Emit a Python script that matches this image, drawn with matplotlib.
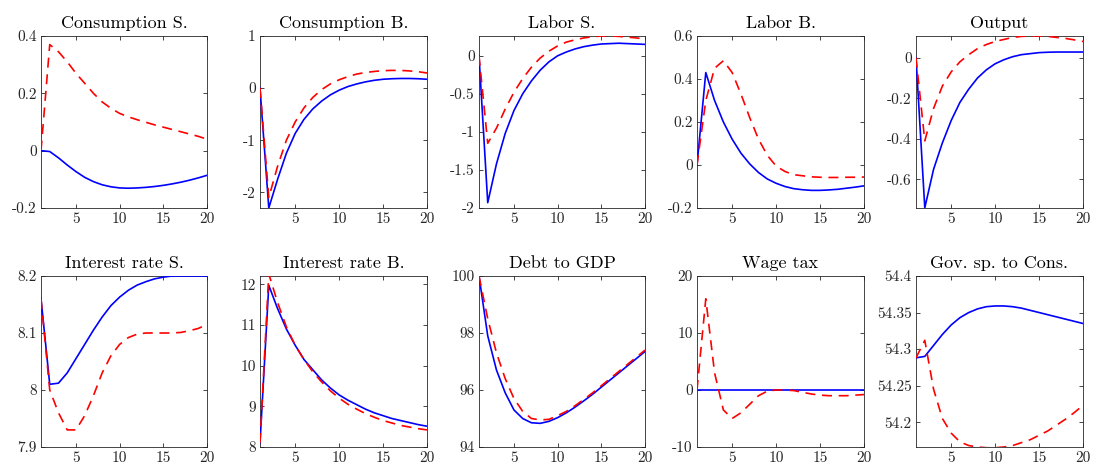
import matplotlib
matplotlib.use("Agg")
import matplotlib.pyplot as plt
import numpy as np

plt.rcParams['font.family'] = 'serif'
plt.rcParams['font.serif'] = ['cmr10']
plt.rcParams['mathtext.fontset'] = 'cm'
plt.rcParams['axes.unicode_minus'] = False
plt.rcParams['axes.formatter.use_mathtext'] = False

periods = list(range(1, 21))

titles = ["Consumption S.", "Consumption B.", "Labor S.", "Labor B.", "Output",
          "Interest rate S.", "Interest rate B.", "Debt to GDP", "Wage tax", "Gov. sp. to Cons."]

cons_s_blue = [0, -0.003, -0.025, -0.05, -0.073, -0.093, -0.108, -0.119, -0.126, -0.130,
               -0.131, -0.130, -0.128, -0.125, -0.121, -0.116, -0.110, -0.103, -0.095, -0.086]
cons_s_red = [0, 0.37, 0.345, 0.31, 0.27, 0.235, 0.2, 0.17, 0.148, 0.13,
              0.118, 0.108, 0.099, 0.09, 0.082, 0.074, 0.066, 0.058, 0.05, 0.04]

cons_b_blue = [0, -2.3, -1.75, -1.25, -0.87, -0.6, -0.4, -0.25, -0.13, -0.04,
               0.03, 0.08, 0.12, 0.15, 0.17, 0.18, 0.185, 0.185, 0.18, 0.17]
cons_b_red = [0, -2.1, -1.5, -1.0, -0.65, -0.38, -0.18, -0.03, 0.08, 0.16,
              0.22, 0.27, 0.3, 0.32, 0.335, 0.34, 0.34, 0.33, 0.315, 0.29]

lab_s_blue = [0, -1.93, -1.42, -1.02, -0.72, -0.5, -0.33, -0.19, -0.08, 0.0,
              0.05, 0.09, 0.12, 0.14, 0.155, 0.16, 0.165, 0.16, 0.155, 0.15]
lab_s_red = [0, -1.15, -0.95, -0.7, -0.48, -0.3, -0.15, -0.03, 0.06, 0.13,
             0.18, 0.21, 0.235, 0.25, 0.26, 0.26, 0.255, 0.245, 0.235, 0.22]

lab_b_blue = [0, 0.43, 0.3, 0.2, 0.12, 0.055, 0.005, -0.035, -0.065, -0.085,
              -0.1, -0.11, -0.115, -0.118, -0.118, -0.116, -0.113, -0.108, -0.103, -0.097]
lab_b_red = [0, 0.3, 0.45, 0.485, 0.43, 0.33, 0.22, 0.12, 0.045, -0.005,
             -0.03, -0.045, -0.05, -0.055, -0.057, -0.058, -0.058, -0.057, -0.057, -0.056]

out_blue = [0, -0.74, -0.55, -0.42, -0.31, -0.22, -0.155, -0.1, -0.06, -0.03,
            -0.01, 0.005, 0.015, 0.02, 0.025, 0.027, 0.028, 0.028, 0.028, 0.028]
out_red = [0, -0.41, -0.25, -0.14, -0.07, -0.02, 0.015, 0.045, 0.065, 0.08,
           0.09, 0.1, 0.105, 0.107, 0.107, 0.105, 0.1, 0.095, 0.088, 0.08]

rs_blue = [8.16, 8.01, 8.012, 8.03, 8.055, 8.08, 8.105, 8.128, 8.148, 8.163,
           8.175, 8.184, 8.19, 8.195, 8.198, 8.2, 8.2, 8.2, 8.2, 8.2]
rs_red = [8.16, 8.0, 7.96, 7.93, 7.93, 7.955, 7.99, 8.03, 8.06, 8.08,
          8.092, 8.098, 8.1, 8.1, 8.1, 8.1, 8.101, 8.104, 8.108, 8.115]

rb_blue = [8.1, 11.97, 11.4, 10.9, 10.5, 10.15, 9.9, 9.65, 9.45, 9.28,
           9.15, 9.04, 8.93, 8.84, 8.77, 8.7, 8.65, 8.6, 8.55, 8.51]
rb_red = [8.1, 12.25, 11.55, 10.95, 10.5, 10.15, 9.85, 9.6, 9.38, 9.2,
          9.05, 8.93, 8.82, 8.73, 8.65, 8.59, 8.53, 8.49, 8.45, 8.42]

debt_blue = [100, 97.9, 96.7, 95.9, 95.3, 95.0, 94.85, 94.83, 94.9, 95.03,
             95.2, 95.4, 95.62, 95.85, 96.1, 96.35, 96.6, 96.85, 97.1, 97.35]
debt_red = [100, 98.5, 97.3, 96.4, 95.7, 95.25, 95.0, 94.95, 94.97, 95.1,
            95.25, 95.45, 95.67, 95.9, 96.15, 96.4, 96.65, 96.9, 97.15, 97.4]

wage_blue = [0] * 20
wage_red = [0, 16, 3, -3.5, -5, -4, -2.5, -1, -0.2, 0,
            0, -0.1, -0.4, -0.7, -0.9, -1.0, -1.0, -1.0, -0.9, -0.8]

gov_blue = [54.288, 54.29, 54.305, 54.32, 54.333, 54.343, 54.35, 54.355, 54.358, 54.359,
            54.359, 54.358, 54.356, 54.353, 54.35, 54.347, 54.344, 54.341, 54.338, 54.335]
gov_red = [54.288, 54.312, 54.245, 54.205, 54.185, 54.173, 54.168, 54.166, 54.165, 54.165,
           54.166, 54.168, 54.172, 54.176, 54.182, 54.188, 54.196, 54.204, 54.213, 54.223]

blue_series = [cons_s_blue, cons_b_blue, lab_s_blue, lab_b_blue, out_blue,
               rs_blue, rb_blue, debt_blue, wage_blue, gov_blue]
red_series = [cons_s_red, cons_b_red, lab_s_red, lab_b_red, out_red,
              rs_red, rb_red, debt_red, wage_red, gov_red]

ylims = [(-0.2, 0.4), (-2.3, 1.0), (-2.0, 0.26), (-0.2, 0.6), (-0.741, 0.107),
         (7.9, 8.2), (8.0, 12.2), (94, 100), (-10, 20), (54.166, 54.4)]
yticks = [[-0.2, 0, 0.2, 0.4], [-2, -1, 0, 1], [-2, -1.5, -1, -0.5, 0], [-0.2, 0, 0.2, 0.4, 0.6],
          [-0.6, -0.4, -0.2, 0], [7.9, 8, 8.1, 8.2], [8, 9, 10, 11, 12], [94, 96, 98, 100],
          [-10, 0, 10, 20], [54.2, 54.25, 54.3, 54.35, 54.4]]
yticklabels = [["-0.2", "0", "0.2", "0.4"], ["-2", "-1", "0", "1"], ["-2", "-1.5", "-1", "-0.5", "0"],
               ["-0.2", "0", "0.2", "0.4", "0.6"], ["-0.6", "-0.4", "-0.2", "0"],
               ["7.9", "8", "8.1", "8.2"], ["8", "9", "10", "11", "12"], ["94", "96", "98", "100"],
               ["-10", "0", "10", "20"], ["54.2", "54.25", "54.3", "54.35", "54.4"]]

W, H = 1096, 470
fig = plt.figure(figsize=(W / 100, H / 100), dpi=100)
lefts = [41, 260, 479, 697, 916]
rights = [207, 427, 645, 864, 1083]
tops = [36, 276]
bottoms = [208, 447]
axc = '#262626'
for i in range(10):
    r, c = divmod(i, 5)
    l, rr = lefts[c], rights[c]
    t, b = tops[r], bottoms[r]
    ax = fig.add_axes([l / W, 1 - b / H, (rr - l) / W, (b - t) / H])
    ax.plot(periods, blue_series[i], color=(0, 0, 1), lw=1.2, zorder=3)
    ax.plot(periods, red_series[i], color=(1, 0, 0), lw=1.2, ls=(0, (6, 4)), zorder=3)
    ax.set_xlim(1, 20)
    ax.set_ylim(*ylims[i])
    ax.set_xticks([5, 10, 15, 20])
    ax.set_xticklabels(["5", "10", "15", "20"])
    ax.set_yticks(yticks[i])
    ax.set_yticklabels(yticklabels[i])
    ax.tick_params(direction='in', top=True, right=True, length=3, width=0.6,
                   labelsize=11, colors=axc, pad=3)
    for s in ax.spines.values():
        s.set_color(axc)
        s.set_linewidth(0.6)
    ax.set_title(titles[i], fontsize=13, pad=6, color='black')

fig.savefig("out.png", dpi=100)
